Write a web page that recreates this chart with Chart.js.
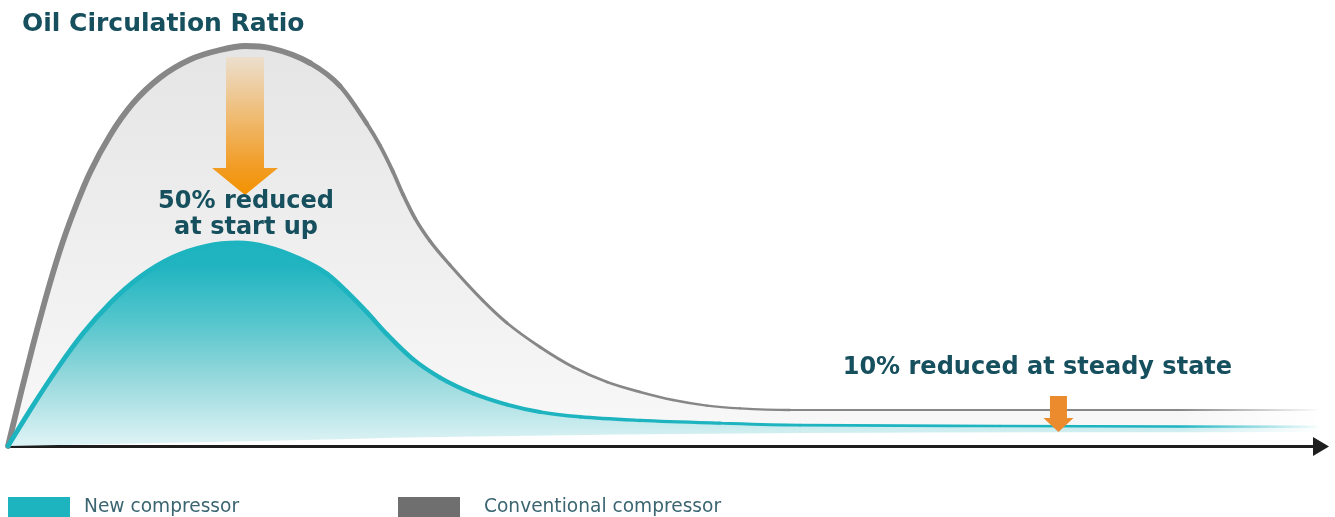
<!DOCTYPE html>
<html>
<head>
<meta charset="utf-8">
<script src="https://cdn.jsdelivr.net/npm/chart.js@4.4.1/dist/chart.umd.min.js"></script>
<style>
  html, body { margin: 0; padding: 0; background: #ffffff; }
  #wrap { position: relative; width: 1335px; height: 517px; overflow: hidden; }
  #chart { position: absolute; left: 0; top: 0; }
  .title { position: absolute; left: 22px; top: 10px; font: bold 25px/1 'DejaVu Sans', sans-serif; color: #164f5d; white-space: nowrap; }
  .swatch { position: absolute; top: 497px; width: 62px; height: 20px; }
  .ltext { position: absolute; top: 497px; font: 18.6px/1 'DejaVu Sans', sans-serif; color: #3a6571; white-space: nowrap; }
</style>
</head>
<body>
<div id="wrap">
  <canvas id="chart" width="1335" height="517"></canvas>
  <div class="title">Oil Circulation Ratio</div>
  <div id="legend"></div>
</div>
<script>
// ---- series ----
const seriesNames = ['New compressor', 'Conventional compressor'];
const seriesColors = ['#1db4c0', '#6f6f6f'];

// time (relative, 0-100) and oil circulation ratio (conventional peak = 100)
const conventionalTime  = [0, 1.07, 1.91, 3.21, 4.20, 5.28, 6.27, 7.80, 9.56, 11.62, 13.91, 16.21, 18.12, 20.03, 23.09, 25.38, 27.45, 28.44, 29.43, 30.20, 31.12, 32.26, 33.79, 36.31, 38.15, 40.67, 43.20, 45.80, 48.32, 50.84, 53.44, 55.96, 59.79, 100];
const conventionalRatio = [0, 14.35, 25.2, 40.75, 51.15, 60.75, 68.4, 77.65, 85.7, 92.1, 96.6, 99, 100, 99.5, 95.75, 90, 80.5, 75.1, 68.6, 62.9, 56.9, 51.25, 45.25, 36.35, 30.75, 24.75, 19.75, 16, 13.5, 11.5, 10.1, 9.4, 9, 9];

const newTime  = [0, 1.91, 3.75, 5.73, 7.80, 10.09, 12.61, 15.21, 17.58, 19.80, 22.32, 24.39, 25.92, 27.45, 28.98, 30.96, 33.03, 35.55, 38.15, 40.67, 43.73, 48.32, 54.43, 60.55, 75.84, 100];
const newRatio = [0, 10.1, 19.25, 28.1, 35.7, 42.25, 47.2, 50, 50.75, 49.75, 46.75, 43, 38.5, 33.4, 27.9, 21.7, 17.1, 13.15, 10.35, 8.5, 7.3, 6.4, 5.7, 5.2, 5, 4.8];

// lower edge of the shaded band under the new-compressor curve
const newShadeFloorTime  = [0, 19.27, 33.03, 60.55, 100];
const newShadeFloorRatio = [0, 1.25, 2.25, 3.25, 3.5];

// ---- notes ----
const startupNote = ['50% reduced', 'at start up'];
const steadyNote = '10% reduced at steady state';
const startupArrow = { x: 18.12, top: 97.25, tip: 62.75 };
const startupLabel = { x: 18.2, baselines: [59.5, 52.9] };
const steadyArrow = { x: 80.31, top: 12.5, tip: 3.5 };
const steadyLabel = { x: 78.7, baseline: 18 };

const points = (xs, ys) => xs.map((x, i) => ({ x, y: ys[i] }));

function lerpStops(stops, x) {
  if (x <= stops[0][0]) return stops[0][1];
  for (let i = 1; i < stops.length; i++) {
    const [x1, w1] = stops[i], [x0, w0] = stops[i - 1];
    if (x <= x1) return w0 + (w1 - w0) * (x - x0) / (x1 - x0);
  }
  return stops[stops.length - 1][1];
}
const grayWidth = [[0, 5.8], [22, 5.8], [28, 4], [36, 3], [60, 2.2], [100, 2.2]];
const tealWidth = [[0, 4.8], [25, 4.8], [36, 4], [60, 2.7], [100, 2.5]];
const segWidth = stops => ({
  borderWidth: c => lerpStops(stops, (c.p0.parsed.x + c.p1.parsed.x) / 2)
});

function tealShade(ctx) {
  const { chart } = ctx;
  if (!chart.chartArea) return null;
  const y = chart.scales.y;
  const g = chart.ctx.createLinearGradient(0, y.getPixelForValue(51), 0, y.getPixelForValue(1));
  g.addColorStop(0, '#1eb3bf');
  g.addColorStop(0.13, '#22b5c1');
  g.addColorStop(0.39, '#53c5cc');
  g.addColorStop(0.65, '#8fd6da');
  g.addColorStop(0.875, '#c0e8eb');
  g.addColorStop(1, '#dbf2f4');
  return g;
}
function grayShade(ctx) {
  const { chart } = ctx;
  if (!chart.chartArea) return null;
  const y = chart.scales.y;
  const g = chart.ctx.createLinearGradient(0, y.getPixelForValue(100), 0, y.getPixelForValue(1.5));
  g.addColorStop(0, '#e5e5e5');
  g.addColorStop(1, '#f8f8f8');
  return g;
}

function drawDownArrow(ctx, cx, top, tip, shaftHalf, headHalf, headLen) {
  const headTop = tip - headLen;
  ctx.beginPath();
  ctx.moveTo(cx - shaftHalf, top);
  ctx.lineTo(cx + shaftHalf, top);
  ctx.lineTo(cx + shaftHalf, headTop);
  ctx.lineTo(cx + headHalf, headTop);
  ctx.lineTo(cx, tip);
  ctx.lineTo(cx - headHalf, headTop);
  ctx.lineTo(cx - shaftHalf, headTop);
  ctx.closePath();
  ctx.fill();
}

const notesPlugin = {
  id: 'notes',
  afterDatasetsDraw(chart) {
    const { ctx } = chart;
    const { x, y } = chart.scales;
    ctx.save();

    // tails fade out towards the axis arrow
    const f0 = x.getPixelForValue(89.5), f1 = x.getPixelForValue(100.5);
    const fade = ctx.createLinearGradient(f0, 0, f1, 0);
    fade.addColorStop(0, 'rgba(255,255,255,0)');
    fade.addColorStop(1, 'rgba(255,255,255,1)');
    ctx.fillStyle = fade;
    const fy0 = y.getPixelForValue(12), fy1 = y.getPixelForValue(1);
    ctx.fillRect(f0, fy0, chart.width - f0, fy1 - fy0);
    ctx.fillStyle = '#ffffff';
    ctx.fillRect(f1, fy0, chart.width - f1, fy1 - fy0);

    // start-up arrow
    const ax = x.getPixelForValue(startupArrow.x);
    const aTop = y.getPixelForValue(startupArrow.top);
    const aTip = y.getPixelForValue(startupArrow.tip);
    const grad = ctx.createLinearGradient(0, aTop, 0, aTip);
    grad.addColorStop(0, '#ecdfce');
    grad.addColorStop(0.8, '#f29c24');
    grad.addColorStop(1, '#f39200');
    ctx.fillStyle = grad;
    drawDownArrow(ctx, ax, aTop, aTip, 19, 33, 27);

    // steady-state arrow
    ctx.fillStyle = '#ec8b2e';
    drawDownArrow(ctx, x.getPixelForValue(steadyArrow.x), y.getPixelForValue(steadyArrow.top),
      y.getPixelForValue(steadyArrow.tip), 8.5, 15, 14);

    // labels
    ctx.fillStyle = '#164f5d';
    ctx.font = "bold 24px 'DejaVu Sans', sans-serif";
    ctx.textAlign = 'center';
    ctx.textBaseline = 'alphabetic';
    startupNote.forEach((line, i) => {
      ctx.fillText(line, x.getPixelForValue(startupLabel.x), y.getPixelForValue(startupLabel.baselines[i]));
    });
    ctx.fillText(steadyNote, x.getPixelForValue(steadyLabel.x), y.getPixelForValue(steadyLabel.baseline));
    ctx.restore();
  },
  afterDraw(chart) {
    // arrow head at the end of the time axis
    const { ctx } = chart;
    const x = chart.scales.x;
    const ay = x.top + 0.5;
    ctx.save();
    ctx.fillStyle = '#1e1e1e';
    ctx.beginPath();
    ctx.moveTo(x.right - 3, ay - 9.5);
    ctx.lineTo(x.right + 13, ay);
    ctx.lineTo(x.right - 3, ay + 9.5);
    ctx.closePath();
    ctx.fill();
    ctx.restore();
  }
};

const newPts = points(newTime, newRatio);
const convPts = points(conventionalTime, conventionalRatio);

new Chart(document.getElementById('chart'), {
  type: 'line',
  data: {
    datasets: [
      { label: 'floor', data: points(newShadeFloorTime, newShadeFloorRatio),
        borderWidth: 0, borderColor: 'rgba(0,0,0,0)', pointRadius: 0, fill: false, order: 1 },
      { label: seriesNames[0] + ' area', data: newPts, fill: 0, backgroundColor: tealShade,
        borderWidth: 0, borderColor: 'rgba(0,0,0,0)', pointRadius: 0, order: 4 },
      { label: seriesNames[0], data: newPts, fill: false, borderColor: seriesColors[0],
        borderWidth: 4.8, segment: segWidth(tealWidth), pointRadius: 0, order: 3 },
      { label: seriesNames[1] + ' area', data: convPts, fill: 2, backgroundColor: grayShade,
        borderWidth: 0, borderColor: 'rgba(0,0,0,0)', pointRadius: 0, order: 6 },
      { label: seriesNames[1], data: convPts, fill: false, borderColor: '#878787',
        borderWidth: 5.8, segment: segWidth(grayWidth), pointRadius: 0, order: 5 }
    ]
  },
  options: {
    responsive: false,
    animation: false,
    devicePixelRatio: 1,
    events: [],
    layout: { padding: { left: 8, right: 19, top: 46, bottom: 71 } },
    elements: { line: { cubicInterpolationMode: 'monotone', capBezierPoints: false, borderCapStyle: 'round', borderJoinStyle: 'round' } },
    datasets: { line: { clip: false } },
    scales: {
      x: { type: 'linear', min: 0, max: 100,
           grid: { display: false, drawTicks: false },
           ticks: { display: false },
           border: { display: true, color: '#1e1e1e', width: 3 } },
      y: { type: 'linear', min: 0, max: 100, display: false }
    },
    plugins: { legend: { display: false }, tooltip: { enabled: false }, title: { display: false } }
  },
  plugins: [notesPlugin]
});

// legend
const legendSwatchX = [8, 398];
const legendTextX = [84, 484];
const legend = document.getElementById('legend');
seriesNames.forEach((name, i) => {
  const sw = document.createElement('div');
  sw.className = 'swatch';
  sw.style.left = legendSwatchX[i] + 'px';
  sw.style.background = seriesColors[i];
  legend.appendChild(sw);
  const t = document.createElement('div');
  t.className = 'ltext';
  t.style.left = legendTextX[i] + 'px';
  t.textContent = name;
  legend.appendChild(t);
});
</script>
</body>
</html>
